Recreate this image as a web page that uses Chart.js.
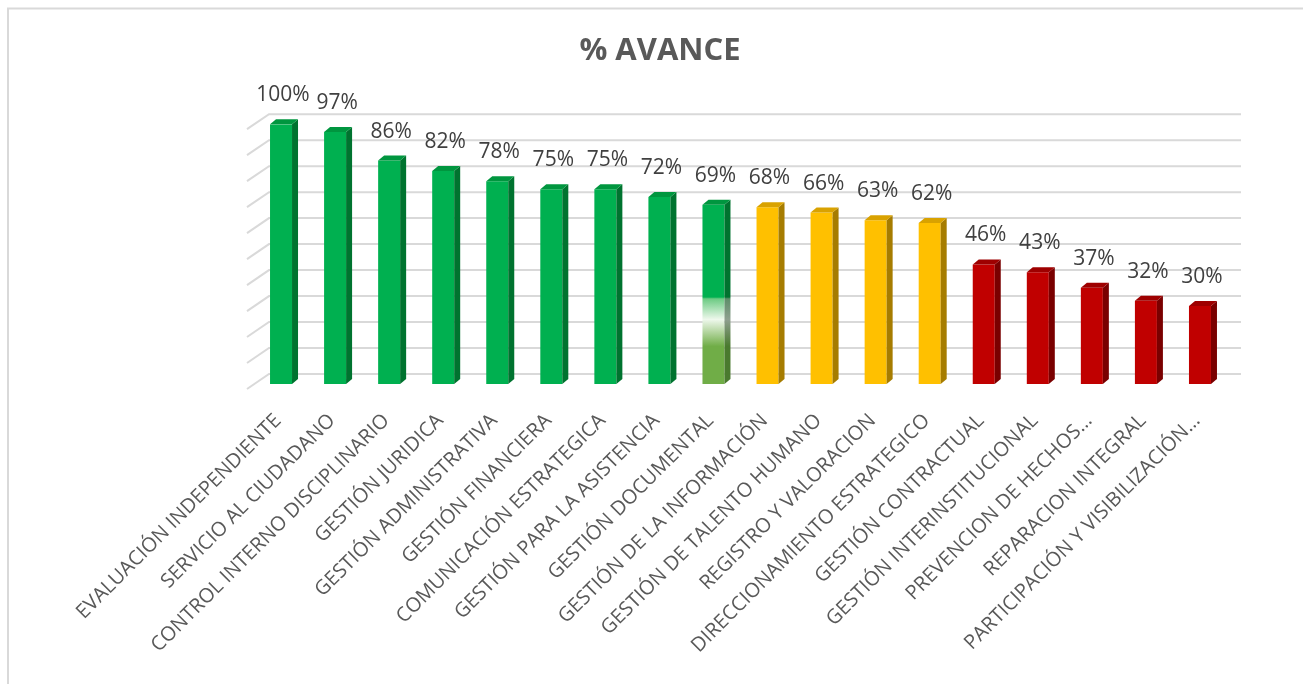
<!DOCTYPE html>
<html><head><meta charset="utf-8">
<script src="https://cdn.jsdelivr.net/npm/chart.js@4.4.1/dist/chart.umd.min.js"></script>
<style>
html,body{margin:0;padding:0;overflow:hidden;background:#fff;width:1303px;height:684px}
#wrap{position:absolute;left:0;top:0;width:1320px;height:700px}
canvas{display:block}
</style>
</head><body>
<div id="wrap"><canvas id="c" width="1320" height="700"></canvas></div>
<script>
const categories = [
  'EVALUACIÓN INDEPENDIENTE',
  'SERVICIO AL CIUDADANO',
  'CONTROL INTERNO DISCIPLINARIO',
  'GESTIÓN JURIDICA',
  'GESTIÓN ADMINISTRATIVA',
  'GESTIÓN FINANCIERA',
  'COMUNICACIÓN ESTRATEGICA',
  'GESTIÓN PARA LA ASISTENCIA',
  'GESTIÓN DOCUMENTAL',
  'GESTIÓN DE LA INFORMACIÓN',
  'GESTIÓN DE TALENTO HUMANO',
  'REGISTRO Y VALORACION',
  'DIRECCIONAMIENTO ESTRATEGICO',
  'GESTIÓN CONTRACTUAL',
  'GESTIÓN INTERINSTITUCIONAL',
  'PREVENCION DE HECHOS…',
  'REPARACION INTEGRAL',
  'PARTICIPACIÓN Y VISIBILIZACIÓN…'
];
const avance = [100, 97, 86, 82, 78, 75, 75, 72, 69, 68, 66, 63, 62, 46, 43, 37, 32, 30];
const nivel = ['alto','alto','alto','alto','alto','alto','alto','alto','mixto',
               'medio','medio','medio','medio','bajo','bajo','bajo','bajo','bajo'];

const palette = {
  alto:  {front:'#00B050', side:'#00732F', top:'#00963F'},
  mixto: {front:'#00B050', side:'#00732F', top:'#00963F'},
  medio: {front:'#FFC000', side:'#A67C00', top:'#D9A200'},
  bajo:  {front:'#C00000', side:'#7A0000', top:'#9E0000'}
};

function mixedGradient(ctx, top, base, side) {
  const g = ctx.createLinearGradient(0, top, 0, base);
  if (!side) {
    g.addColorStop(0, '#00B050'); g.addColorStop(0.515, '#00B050');
    g.addColorStop(0.525, '#6DCB84'); g.addColorStop(0.64, '#EEF8EC');
    g.addColorStop(0.79, '#70AD47'); g.addColorStop(1, '#70AD47');
  } else {
    g.addColorStop(0, '#00732F'); g.addColorStop(0.515, '#00732F');
    g.addColorStop(0.525, '#5E8F6A'); g.addColorStop(0.64, '#8FA08F');
    g.addColorStop(0.79, '#4A7A2E'); g.addColorStop(1, '#4A7A2E');
  }
  return g;
}

const DX = 6, DY = -5;

const borderPlugin = {
  id: 'frame',
  beforeDraw(chart) {
    const c = chart.ctx;
    c.save();
    c.fillStyle = '#fff';
    c.fillRect(0, 0, chart.width, chart.height);
    c.strokeStyle = '#D9D9D9';
    c.lineWidth = 2;
    c.strokeRect(8, 8.5, 1400, 1000);
    c.restore();
  }
};

const gridPlugin = {
  id: 'grid3d',
  beforeDatasetsDraw(chart) {
    const c = chart.ctx, ys = chart.scales.y, ca = chart.chartArea;
    c.save();
    c.strokeStyle = '#D9D9D9';
    c.lineWidth = 2;
    ys.ticks.forEach(t => {
      const py = ys.getPixelForValue(t.value);
      c.beginPath();
      c.moveTo(ca.left - 7, py + 5);
      c.lineTo(ca.left + 15, py - 10);
      c.lineTo(ca.right + 14, py - 10);
      c.stroke();
    });
    c.restore();
  }
};

const facesPlugin = {
  id: 'faces3d',
  afterDatasetsDraw(chart) {
    const c = chart.ctx;
    const meta = chart.getDatasetMeta(0);
    c.save();
    meta.data.forEach((el, i) => {
      const p = el.getProps(['x', 'y', 'base', 'width'], true);
      const l = p.x - p.width / 2, r = p.x + p.width / 2;
      const col = palette[nivel[i]];
      c.beginPath();
      c.moveTo(r, p.y); c.lineTo(r + DX, p.y + DY);
      c.lineTo(r + DX, p.base + DY); c.lineTo(r, p.base);
      c.closePath();
      c.fillStyle = nivel[i] === 'mixto' ? mixedGradient(c, p.y, p.base, true) : col.side;
      c.fill();
      c.beginPath();
      c.moveTo(l, p.y); c.lineTo(l + DX, p.y + DY);
      c.lineTo(r + DX, p.y + DY); c.lineTo(r, p.y);
      c.closePath();
      c.fillStyle = col.top;
      c.fill();
      c.fillStyle = '#404040';
      c.font = '21px "Open Sans"';
      c.textAlign = 'center';
      c.textBaseline = 'middle';
      c.fillText(avance[i] + '%', p.x + 2, p.y - 29);
    });
    c.restore();
  }
};

new Chart(document.getElementById('c'), {
  type: 'bar',
  data: {
    labels: categories,
    datasets: [{
      data: avance,
      barPercentage: 0.407,
      categoryPercentage: 1,
      borderWidth: 0,
      backgroundColor: (ctx) => {
        const i = ctx.dataIndex;
        if (i === undefined) return '#00B050';
        if (nivel[i] === 'mixto') {
          const ys = ctx.chart.scales.y;
          if (!ys || !ctx.chart.chartArea) return '#00B050';
          return mixedGradient(ctx.chart.ctx, ys.getPixelForValue(avance[i]), ys.getPixelForValue(0), false);
        }
        return palette[nivel[i]].front;
      }
    }]
  },
  options: {
    responsive: false,
    animation: false,
    devicePixelRatio: 1,
    layout: {padding: {left: 0, right: 0, top: 0, bottom: 0}},
    plugins: {
      legend: {display: false},
      tooltip: {enabled: false},
      title: {
        display: true,
        text: '% AVANCE',
        color: '#595959',
        font: {family: '"Open Sans"', size: 31, weight: 'bold'},
        padding: {top: 33, bottom: 54}
      }
    },
    scales: {
      y: {
        position: 'left',
        min: 0, max: 100,
        ticks: {display: false, stepSize: 10},
        grid: {display: false, drawTicks: false},
        border: {display: false},
        afterFit: (axis) => { axis.width = 254; }
      },
      yr: {
        type: 'linear',
        position: 'right',
        min: 0, max: 100,
        ticks: {display: false},
        grid: {display: false, drawTicks: false},
        border: {display: false},
        afterFit: (axis) => { axis.width = 93; }
      },
      x: {
        grid: {display: false, drawTicks: false},
        border: {display: false},
        ticks: {
          color: '#595959',
          font: {family: '"Open Sans"', size: 20},
          minRotation: 45, maxRotation: 45,
          autoSkip: false,
          padding: 25,
          labelOffset: -3
        },
        afterFit: (axis) => { axis.height = 316; }
      }
    }
  },
  plugins: [borderPlugin, gridPlugin, facesPlugin]
});
</script>
</body></html>
